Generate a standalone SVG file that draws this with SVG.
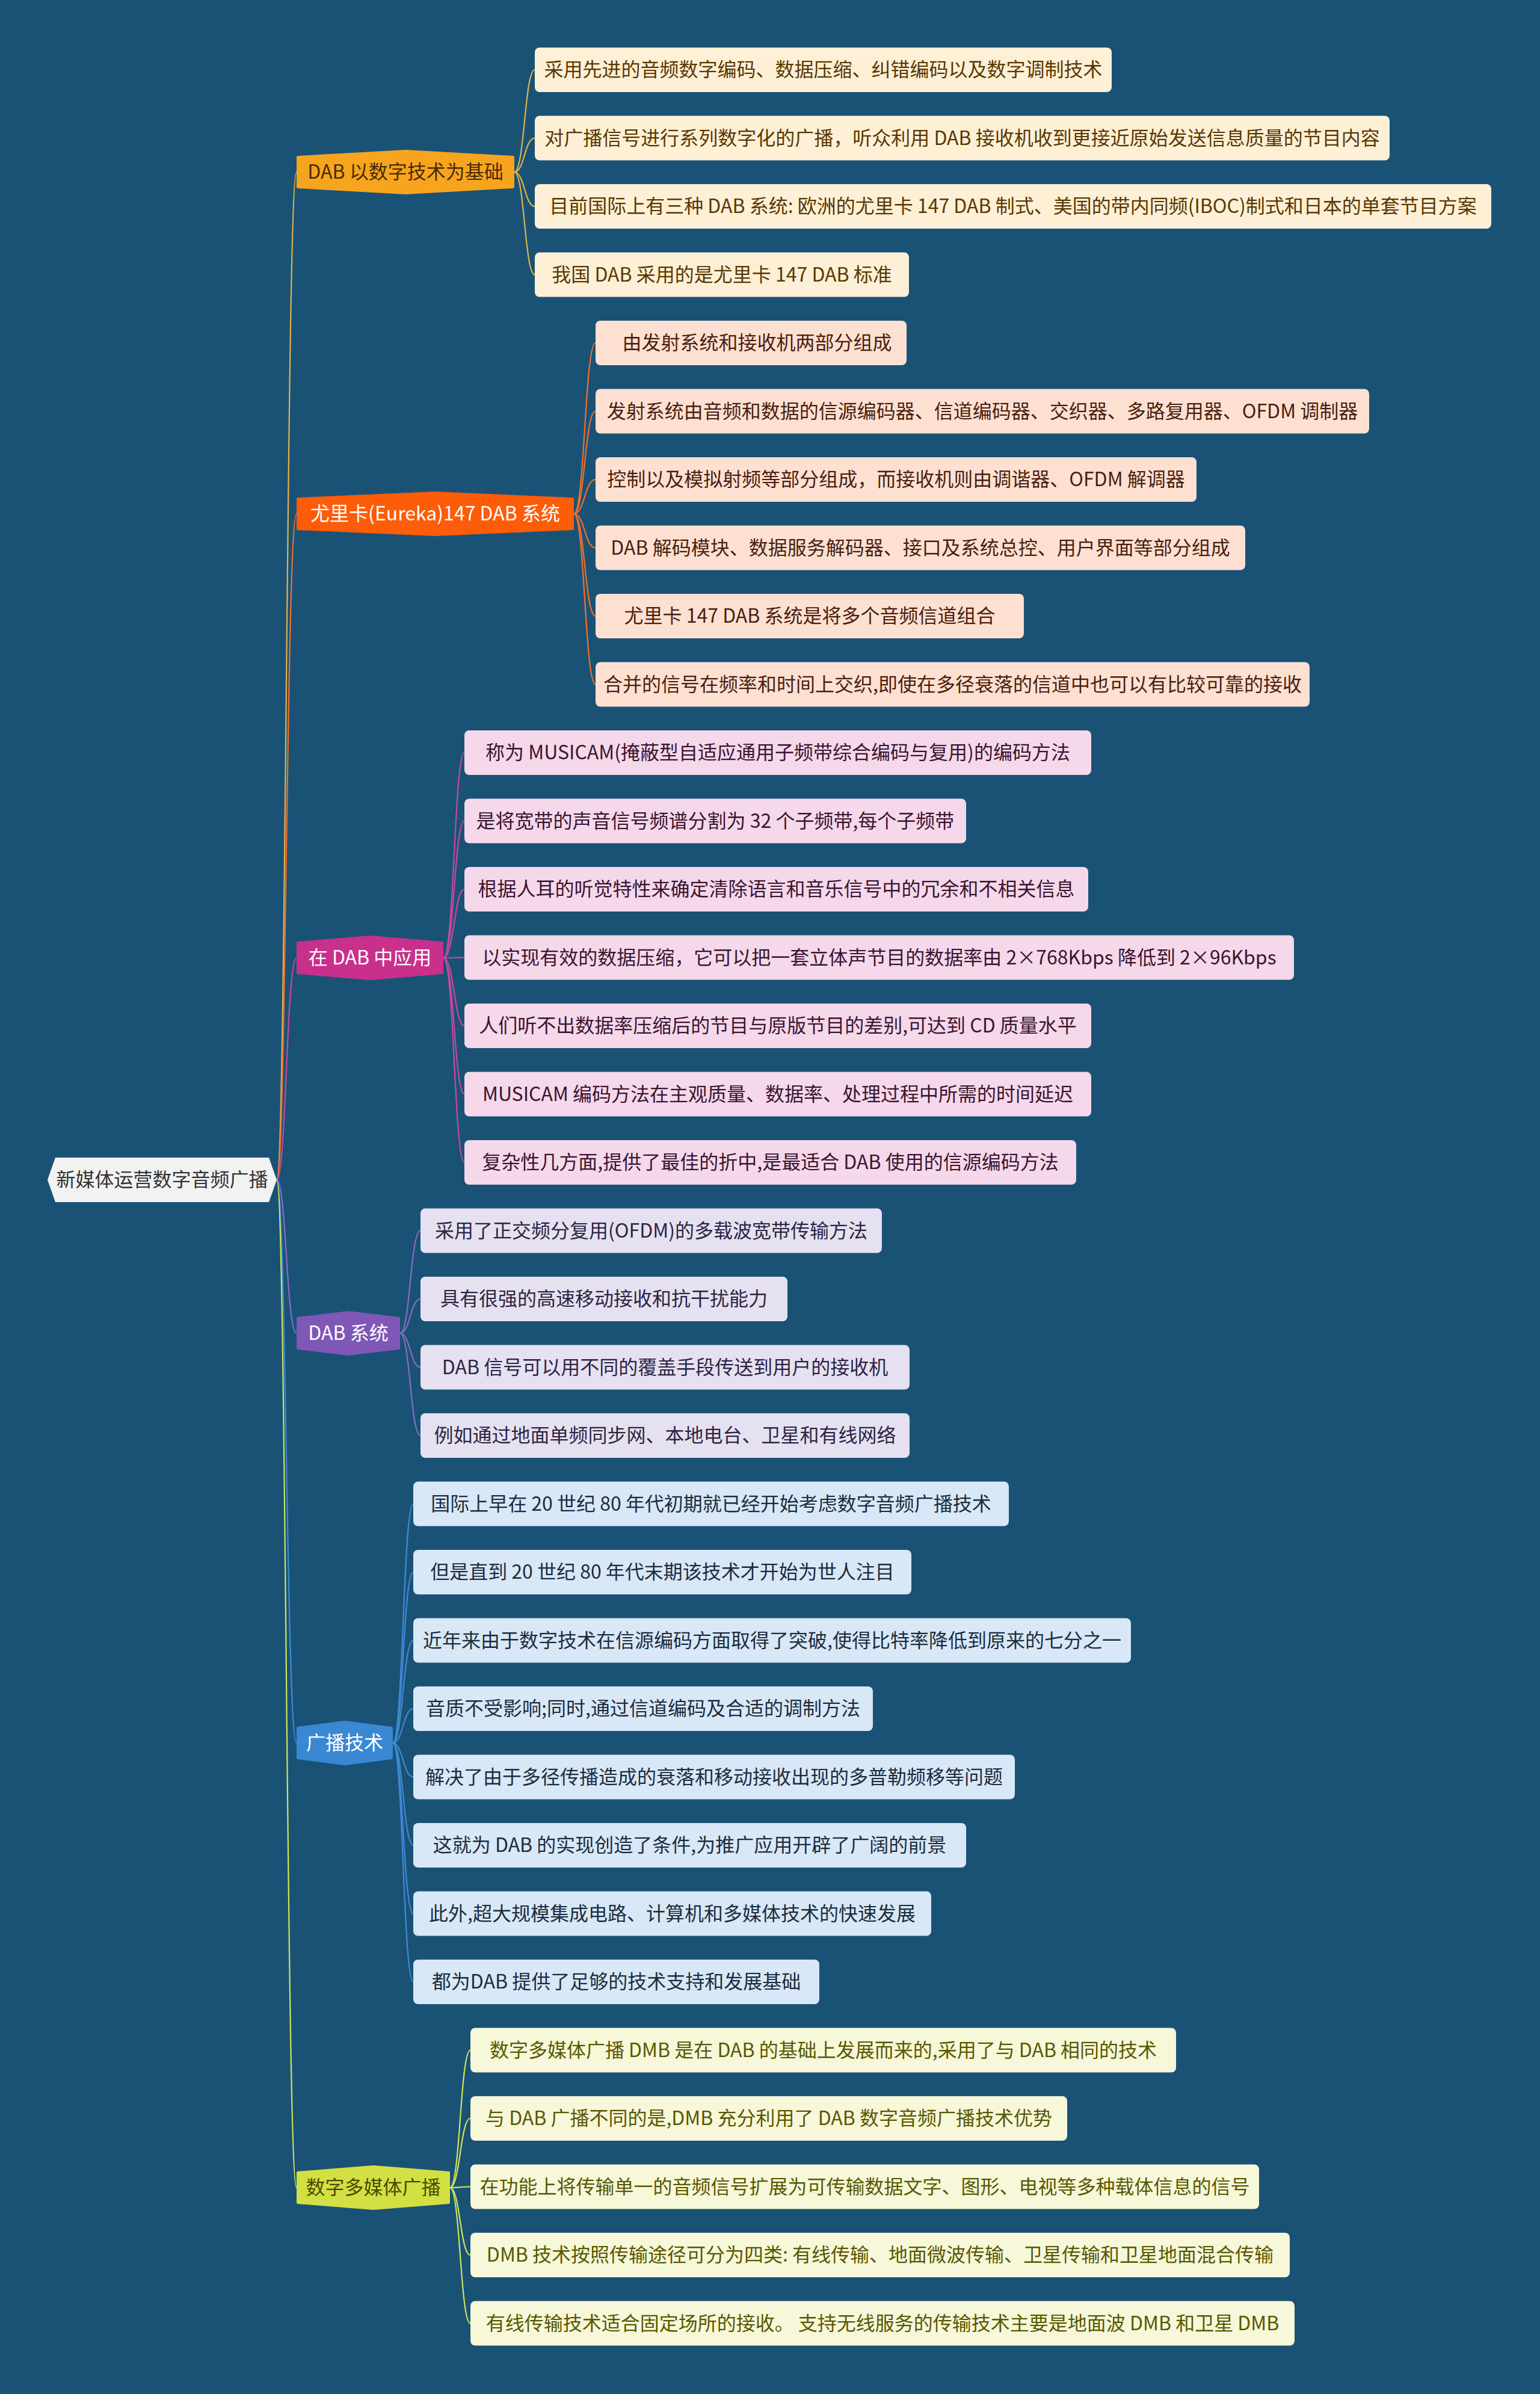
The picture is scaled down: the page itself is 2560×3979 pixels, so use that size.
<svg xmlns="http://www.w3.org/2000/svg" width="2560" height="3979" viewBox="0 0 2560 3979">
<style>
text{font-family:"Noto Sans CJK SC","Noto Sans",sans-serif;font-size:32px;text-anchor:middle}
.lf rect{rx:8px;ry:8px}
.c path{fill:none;stroke-width:2.2}
.c1 path{stroke:#e2b24e}.c2 path{stroke:#f2702a}.c3 path{stroke:#c64a9a}.c4 path{stroke:#8a6cc4}.c5 path{stroke:#3f8ad4}.c6 path{stroke:#cfe45a}
.g1 rect{fill:#fdf0d6}.g1 text{fill:#5a3700}
.g2 rect{fill:#fde0d2}.g2 text{fill:#4a1e0e}
.g3 rect{fill:#f5d8ea}.g3 text{fill:#3a1430}
.g4 rect{fill:#e6e1f0}.g4 text{fill:#2c2444}
.g5 rect{fill:#d8e8f6}.g5 text{fill:#1c2c3e}
.g6 rect{fill:#f7f7d9}.g6 text{fill:#585800}
.m path{stroke-width:4;stroke-linejoin:round}
</style>
<rect width="2560" height="3979" fill="#1a5276"/>

<g id="connectors">
  <g class="c" id="root-links">
    <path d="M460 1961 C476 1961 476 286 493 286" stroke="#e2b24e" stroke-width="2.5"/>
    <path d="M460 1961 C476 1961 476 854 493 854" stroke="#f2702a" stroke-width="2.5"/>
    <path d="M460 1961 C476 1961 476 1592 493 1592" stroke="#c64a9a" stroke-width="2.5"/>
    <path d="M460 1961 C476 1961 476 2216 493 2216" stroke="#8a6cc4" stroke-width="2.5"/>
    <path d="M460 1961 C476 1961 476 2897 493 2897" stroke="#3f8ad4" stroke-width="2.5"/>
    <path d="M460 1961 C476 1961 476 3636 493 3636" stroke="#cfe45a" stroke-width="2.5"/>
  </g>
  <g class="c c1">
    <path d="M855 286 C872 286 872 116 889 116"/>
    <path d="M855 286 C872 286 872 229.5 889 229.5"/>
    <path d="M855 286 C872 286 872 343 889 343"/>
    <path d="M855 286 C872 286 872 456.5 889 456.5"/>
  </g>
  <g class="c c2">
    <path d="M954 854 C972 854 972 570 990 570"/>
    <path d="M954 854 C972 854 972 683.5 990 683.5"/>
    <path d="M954 854 C972 854 972 797 990 797"/>
    <path d="M954 854 C972 854 972 910.5 990 910.5"/>
    <path d="M954 854 C972 854 972 1024 990 1024"/>
    <path d="M954 854 C972 854 972 1137.5 990 1137.5"/>
  </g>
  <g class="c c3">
    <path d="M737 1592 C755 1592 755 1251 772 1251"/>
    <path d="M737 1592 C755 1592 755 1364.5 772 1364.5"/>
    <path d="M737 1592 C755 1592 755 1478 772 1478"/>
    <path d="M737 1592 C755 1592 755 1591.5 772 1591.5"/>
    <path d="M737 1592 C755 1592 755 1705 772 1705"/>
    <path d="M737 1592 C755 1592 755 1818.5 772 1818.5"/>
    <path d="M737 1592 C755 1592 755 1932 772 1932"/>
  </g>
  <g class="c c4">
    <path d="M665 2216 C682 2216 682 2045.5 699 2045.5"/>
    <path d="M665 2216 C682 2216 682 2159 699 2159"/>
    <path d="M665 2216 C682 2216 682 2272.5 699 2272.5"/>
    <path d="M665 2216 C682 2216 682 2386 699 2386"/>
  </g>
  <g class="c c5">
    <path d="M653 2897 C670 2897 670 2499.5 687 2499.5"/>
    <path d="M653 2897 C670 2897 670 2613 687 2613"/>
    <path d="M653 2897 C670 2897 670 2726.5 687 2726.5"/>
    <path d="M653 2897 C670 2897 670 2840 687 2840"/>
    <path d="M653 2897 C670 2897 670 2953.5 687 2953.5"/>
    <path d="M653 2897 C670 2897 670 3067 687 3067"/>
    <path d="M653 2897 C670 2897 670 3180.5 687 3180.5"/>
    <path d="M653 2897 C670 2897 670 3294 687 3294"/>
  </g>
  <g class="c c6">
    <path d="M748 3636 C765 3636 765 3407.5 782 3407.5"/>
    <path d="M748 3636 C765 3636 765 3521 782 3521"/>
    <path d="M748 3636 C765 3636 765 3634.5 782 3634.5"/>
    <path d="M748 3636 C765 3636 765 3748 782 3748"/>
    <path d="M748 3636 C765 3636 765 3861.5 782 3861.5"/>
  </g>
</g>

<g id="root">
  <path d="M79 1961 L92 1924 L447 1924 L460 1961 L447 1998 L92 1998 Z" fill="#f2f2f2"/>
  <text x="269.5" y="1972" fill="#333333">新媒体运营数字音频广播</text>
</g>

<g id="topic1" class="m">
  <path d="M495 261 L674 251 L853 261 L853 311 L674 321 L495 311 Z" fill="#f7a51e" stroke="#f7a51e"/>
  <text x="674" y="297" fill="#4a2a00">DAB 以数字技术为基础</text>
</g>
<g id="topic2" class="m">
  <path d="M495 829 L723.5 819 L952 829 L952 879 L723.5 889 L495 879 Z" fill="#fd5c09" stroke="#fd5c09"/>
  <text x="723.5" y="865" fill="#ffffff">尤里卡(Eureka)147 DAB 系统</text>
</g>
<g id="topic3" class="m">
  <path d="M495 1567 L615 1557 L735 1567 L735 1617 L615 1627 L495 1617 Z" fill="#c8308c" stroke="#c8308c"/>
  <text x="615" y="1603" fill="#ffffff">在 DAB 中应用</text>
</g>
<g id="topic4" class="m">
  <path d="M495 2191 L579 2181 L663 2191 L663 2241 L579 2251 L495 2241 Z" fill="#7e57b7" stroke="#7e57b7"/>
  <text x="579" y="2227" fill="#ffffff">DAB 系统</text>
</g>
<g id="topic5" class="m">
  <path d="M495 2872 L573 2862 L651 2872 L651 2922 L573 2932 L495 2922 Z" fill="#3a88d4" stroke="#3a88d4"/>
  <text x="573" y="2908" fill="#ffffff">广播技术</text>
</g>
<g id="topic6" class="m">
  <path d="M495 3611 L620.5 3601 L746 3611 L746 3661 L620.5 3671 L495 3661 Z" fill="#d2e043" stroke="#d2e043"/>
  <text x="620.5" y="3647" fill="#4a4a00">数字多媒体广播</text>
</g>

<g class="lf g1">
  <g id="n1-1"><rect x="889" y="79" width="959" height="74"/><text x="1368.5" y="127">采用先进的音频数字编码、数据压缩、纠错编码以及数字调制技术</text></g>
  <g id="n1-2"><rect x="889" y="192.5" width="1421" height="74"/><text x="1599.5" y="240.5">对广播信号进行系列数字化的广播，听众利用 DAB 接收机收到更接近原始发送信息质量的节目内容</text></g>
  <g id="n1-3"><rect x="889" y="306" width="1590" height="74"/><text x="1684" y="354">目前国际上有三种 DAB 系统: 欧洲的尤里卡 147 DAB 制式、美国的带内同频(IBOC)制式和日本的单套节目方案</text></g>
  <g id="n1-4"><rect x="889" y="419.5" width="622" height="74"/><text x="1200" y="467.5">我国 DAB 采用的是尤里卡 147 DAB 标准</text></g>
</g>
<g class="lf g2">
  <g id="n2-1"><rect x="990" y="533" width="517" height="74"/><text x="1258.5" y="581">由发射系统和接收机两部分组成</text></g>
  <g id="n2-2"><rect x="990" y="646.5" width="1286" height="74"/><text x="1633" y="694.5">发射系统由音频和数据的信源编码器、信道编码器、交织器、多路复用器、OFDM 调制器</text></g>
  <g id="n2-3"><rect x="990" y="760" width="999" height="74"/><text x="1489.5" y="808">控制以及模拟射频等部分组成，而接收机则由调谐器、OFDM 解调器</text></g>
  <g id="n2-4"><rect x="990" y="873.5" width="1080" height="74"/><text x="1530" y="921.5">DAB 解码模块、数据服务解码器、接口及系统总控、用户界面等部分组成</text></g>
  <g id="n2-5"><rect x="990" y="987" width="712" height="74"/><text x="1346" y="1035">尤里卡 147 DAB 系统是将多个音频信道组合</text></g>
  <g id="n2-6"><rect x="990" y="1100.5" width="1187" height="74"/><text x="1583.5" y="1148.5">合并的信号在频率和时间上交织,即使在多径衰落的信道中也可以有比较可靠的接收</text></g>
</g>
<g class="lf g3">
  <g id="n3-1"><rect x="772" y="1214" width="1042" height="74"/><text x="1293" y="1262">称为 MUSICAM(掩蔽型自适应通用子频带综合编码与复用)的编码方法</text></g>
  <g id="n3-2"><rect x="772" y="1327.5" width="834" height="74"/><text x="1189" y="1375.5">是将宽带的声音信号频谱分割为 32 个子频带,每个子频带</text></g>
  <g id="n3-3"><rect x="772" y="1441" width="1037" height="74"/><text x="1290.5" y="1489">根据人耳的听觉特性来确定清除语言和音乐信号中的冗余和不相关信息</text></g>
  <g id="n3-4"><rect x="772" y="1554.5" width="1379" height="74"/><text x="1461.5" y="1602.5">以实现有效的数据压缩，它可以把一套立体声节目的数据率由 2×768Kbps 降低到 2×96Kbps</text></g>
  <g id="n3-5"><rect x="772" y="1668" width="1042" height="74"/><text x="1293" y="1716">人们听不出数据率压缩后的节目与原版节目的差别,可达到 CD 质量水平</text></g>
  <g id="n3-6"><rect x="772" y="1781.5" width="1042" height="74"/><text x="1293" y="1829.5">MUSICAM 编码方法在主观质量、数据率、处理过程中所需的时间延迟</text></g>
  <g id="n3-7"><rect x="772" y="1895" width="1017" height="74"/><text x="1280.5" y="1943">复杂性几方面,提供了最佳的折中,是最适合 DAB 使用的信源编码方法</text></g>
</g>
<g class="lf g4">
  <g id="n4-1"><rect x="699" y="2008.5" width="767" height="74"/><text x="1082.5" y="2056.5">采用了正交频分复用(OFDM)的多载波宽带传输方法</text></g>
  <g id="n4-2"><rect x="699" y="2122" width="610" height="74"/><text x="1004" y="2170">具有很强的高速移动接收和抗干扰能力</text></g>
  <g id="n4-3"><rect x="699" y="2235.5" width="813" height="74"/><text x="1105.5" y="2283.5">DAB 信号可以用不同的覆盖手段传送到用户的接收机</text></g>
  <g id="n4-4"><rect x="699" y="2349" width="813" height="74"/><text x="1105.5" y="2397">例如通过地面单频同步网、本地电台、卫星和有线网络</text></g>
</g>
<g class="lf g5">
  <g id="n5-1"><rect x="687" y="2462.5" width="990" height="74"/><text x="1182" y="2510.5">国际上早在 20 世纪 80 年代初期就已经开始考虑数字音频广播技术</text></g>
  <g id="n5-2"><rect x="687" y="2576" width="828" height="74"/><text x="1101" y="2624">但是直到 20 世纪 80 年代末期该技术才开始为世人注目</text></g>
  <g id="n5-3"><rect x="687" y="2689.5" width="1193" height="74"/><text x="1283.5" y="2737.5">近年来由于数字技术在信源编码方面取得了突破,使得比特率降低到原来的七分之一</text></g>
  <g id="n5-4"><rect x="687" y="2803" width="764" height="74"/><text x="1069" y="2851">音质不受影响;同时,通过信道编码及合适的调制方法</text></g>
  <g id="n5-5"><rect x="687" y="2916.5" width="1000" height="74"/><text x="1187" y="2964.5">解决了由于多径传播造成的衰落和移动接收出现的多普勒频移等问题</text></g>
  <g id="n5-6"><rect x="687" y="3030" width="919" height="74"/><text x="1146.5" y="3078">这就为 DAB 的实现创造了条件,为推广应用开辟了广阔的前景</text></g>
  <g id="n5-7"><rect x="687" y="3143.5" width="861" height="74"/><text x="1117.5" y="3191.5">此外,超大规模集成电路、计算机和多媒体技术的快速发展</text></g>
  <g id="n5-8"><rect x="687" y="3257" width="675" height="74"/><text x="1024.5" y="3305">都为DAB 提供了足够的技术支持和发展基础</text></g>
</g>
<g class="lf g6">
  <g id="n6-1"><rect x="782" y="3370.5" width="1173" height="74"/><text x="1368.5" y="3418.5">数字多媒体广播 DMB 是在 DAB 的基础上发展而来的,采用了与 DAB 相同的技术</text></g>
  <g id="n6-2"><rect x="782" y="3484" width="992" height="74"/><text x="1278" y="3532">与 DAB 广播不同的是,DMB 充分利用了 DAB 数字音频广播技术优势</text></g>
  <g id="n6-3"><rect x="782" y="3597.5" width="1311" height="74"/><text x="1437.5" y="3645.5">在功能上将传输单一的音频信号扩展为可传输数据文字、图形、电视等多种载体信息的信号</text></g>
  <g id="n6-4"><rect x="782" y="3711" width="1362" height="74"/><text x="1463" y="3759">DMB 技术按照传输途径可分为四类: 有线传输、地面微波传输、卫星传输和卫星地面混合传输</text></g>
  <g id="n6-5"><rect x="782" y="3824.5" width="1370" height="74"/><text x="1467" y="3872.5">有线传输技术适合固定场所的接收。 支持无线服务的传输技术主要是地面波 DMB 和卫星 DMB</text></g>
</g>
</svg>
